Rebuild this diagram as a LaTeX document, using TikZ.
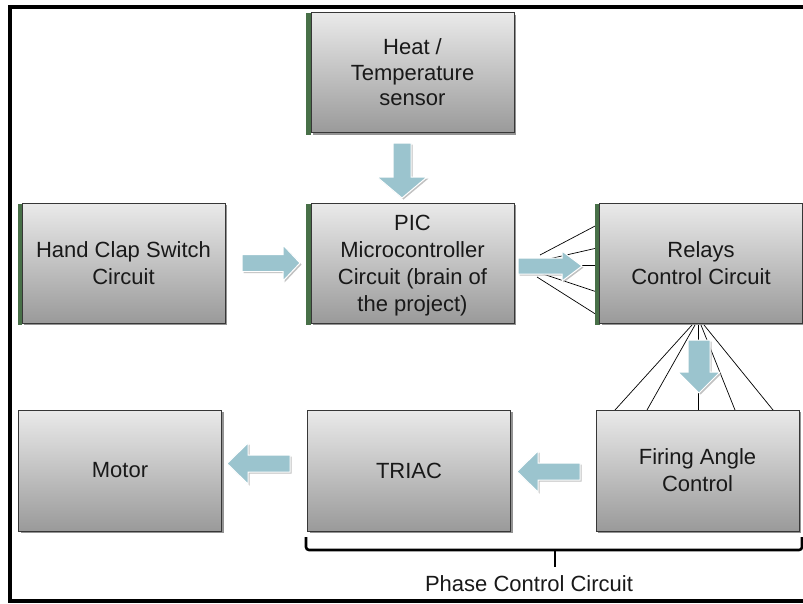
\documentclass[tikz,border=0pt]{standalone}
\usepackage{fontspec}
\setmainfont{Liberation Sans}
\usetikzlibrary{shadows,calc}
\definecolor{arrowblue}{RGB}{155,196,206}
\definecolor{edgegreen}{RGB}{72,112,72}
\definecolor{boxtop}{RGB}{234,234,234}
\definecolor{boxbot}{RGB}{154,154,154}
\definecolor{boxline}{RGB}{55,55,55}
\definecolor{txt}{RGB}{25,25,25}
\begin{document}
\begin{tikzpicture}[x=1pt,y=-1pt,
  blk/.style={rectangle, draw=boxline, line width=0.8pt, top color=boxtop, bottom color=boxbot,
    minimum width=203pt, minimum height=120pt, align=center, text=txt, inner sep=0pt,
    font=\fontsize{22}{27}\selectfont,
    drop shadow={shadow xshift=2pt, shadow yshift=-2pt, fill=black!60, opacity=0.7}},
  greenedge/.style={fill=edgegreen},
  blockarrow/.style={fill=arrowblue, draw=white, line width=1pt,
    drop shadow={shadow xshift=1.5pt, shadow yshift=-1.5pt, fill=gray!60, opacity=0.8}},
  fanline/.style={draw=black, line width=0.7pt},
  bracket/.style={draw=black, line width=2.6pt, rounded corners=3pt},
  lbl/.style={text=txt, font=\fontsize{22}{26}\selectfont, inner sep=0pt}
]
\useasboundingbox (0,0) rectangle (803,603);
\fill[white] (0,0) rectangle (803,603);
% frame
\draw[line width=4.5pt] (830,7) -- (10,7) -- (10,601) -- (830,601);

% fan lines (behind)
\draw[fanline] (540,255) -- (597,225);
\draw[fanline] (540,261) -- (597,248);
\draw[fanline] (540,265) -- (597,265);
\draw[fanline] (540,273) -- (597,292);
\draw[fanline] (537,277) -- (597,315);
\draw[fanline] (692,325) -- (615,410);
\draw[fanline] (695,325) -- (647,410);
\draw[fanline] (698,325) -- (698,410);
\draw[fanline] (701,325) -- (735,410);
\draw[fanline] (704,325) -- (773,410);

% green edges
\fill[greenedge] (306,13) rectangle (311,135);
\fill[greenedge] (18,204) rectangle (22,325);
\fill[greenedge] (306,204) rectangle (311,325);
\fill[greenedge] (595,204) rectangle (600,325);

% boxes
\node[blk, font=\fontsize{22}{25.5}\selectfont] (heat) at (412.5,72.5) {Heat /\\Temperature\\sensor};
\node[blk] (hand) at (123.5,263) {Hand Clap Switch\\Circuit};
\node[blk, text depth=0pt] (pic) at (412.5,263) {PIC\\Microcontroller\\Circuit (brain of\\the project)};
\node[blk] (relays) at (701,263) {Relays\\Control Circuit};
\node[blk, minimum height=121pt] (motor) at (120,470.5) {Motor};
\node[blk, minimum height=121pt] (triac) at (409,470.5) {TRIAC};
\node[blk, minimum height=121pt] (firing) at (697.5,470.5) {Firing Angle\\Control};

% block arrows
\path[blockarrow] (393,143) -- (411,143) -- (411,177) -- (427,177) -- (402,198) -- (377,177) -- (393,177) -- cycle;
\path[blockarrow] (242,254.5) -- (283,254.5) -- (283,245) -- (300,263) -- (283,281) -- (283,271.5) -- (242,271.5) -- cycle;
\path[blockarrow] (518,258) -- (562,258) -- (562,251) -- (582,266) -- (562,281) -- (562,274) -- (518,274) -- cycle;
\path[blockarrow] (688,340) -- (710,340) -- (710,372) -- (720,372) -- (699,393) -- (678,372) -- (688,372) -- cycle;
\path[blockarrow] (580,463) -- (538,463) -- (538,451) -- (517,471.5) -- (538,492) -- (538,480) -- (580,480) -- cycle;
\path[blockarrow] (290,455) -- (248,455) -- (248,443) -- (227,463.5) -- (248,484) -- (248,472) -- (290,472) -- cycle;

% bracket
\draw[bracket] (306,537) -- (306,550) -- (802,550) -- (802,537);
\draw[draw=black, line width=2.6pt] (555,550) -- (555,567);
\node[lbl] (phase) at (529,584) {Phase Control Circuit};
\end{tikzpicture}
\end{document}
